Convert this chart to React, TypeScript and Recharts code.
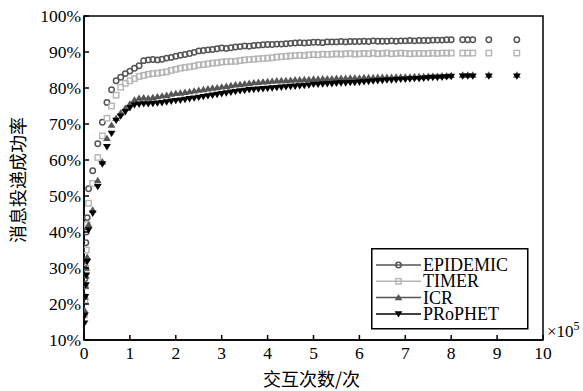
import React from "react";
import { ReferenceArea, Scatter, ScatterChart, XAxis, YAxis } from "recharts";

// interaction counts (x10^5)
const interactions = [
  0.01, 0.02, 0.03, 0.04, 0.05, 0.07, 0.1, 0.19, 0.3, 0.4, 0.5, 0.6, 0.7, 0.8, 0.9, 1.0, 1.1, 1.2,
  1.3, 1.4, 1.5, 1.6, 1.7, 1.8, 1.9,
  2.0, 2.1, 2.2, 2.3, 2.4, 2.5, 2.6, 2.7, 2.8, 2.9,
  3.0, 3.1, 3.2, 3.3, 3.4, 3.5, 3.6, 3.7, 3.8, 3.9,
  4.0, 4.1, 4.2, 4.3, 4.4, 4.5, 4.6, 4.7, 4.8, 4.9,
  5.0, 5.1, 5.2, 5.3, 5.4, 5.5, 5.6, 5.7, 5.8, 5.9,
  6.0, 6.1, 6.2, 6.3, 6.4, 6.5, 6.6, 6.7, 6.8, 6.9,
  7.0, 7.1, 7.2, 7.3, 7.4, 7.5, 7.6, 7.7, 7.8, 7.9,
  8.0, 8.25, 8.36, 8.47, 8.82, 9.43,
];

// delivery ratio (%)
const epidemic = [
  22, 27, 32, 37, 40, 44, 52, 57, 64.5, 70.5, 76, 79.5, 82, 83, 84, 84.7, 85.5, 86.2,
  87.6, 87.8, 87.9, 87.8, 88.0, 88.3, 88.5,
  88.8, 89.1, 89.3, 89.6, 89.9, 90.3, 90.4, 90.6, 90.7, 90.9,
  91.1, 91.0, 91.2, 91.4, 91.5, 91.7, 91.6, 91.8, 91.9, 92.0,
  92.1, 92.1, 92.2, 92.2, 92.3, 92.4, 92.5, 92.6, 92.5, 92.6,
  92.7, 92.7, 92.6, 92.8, 92.8, 92.8, 92.9, 92.8, 92.9, 92.9,
  92.9, 93.0, 92.9, 93.1, 93.0, 93.0, 93.0, 93.1, 93.0, 93.1,
  93.1, 93.2, 93.1, 93.2, 93.2, 93.2, 93.3, 93.3, 93.3, 93.4,
  93.4, 93.4, 93.4, 93.4, 93.4, 93.4,
];

const timer = [
  17, 21, 25, 30, 35, 42, 48, 53.5, 60.7, 66.7, 71.6, 75, 78, 80.2, 81.3, 82, 82.6, 83.2,
  83.5, 83.8, 84.0, 84.1, 84.3, 84.5, 84.9,
  85.2, 85.5, 85.7, 85.9, 86.1, 86.4, 86.5, 86.7, 86.9, 87.0,
  87.2, 87.3, 87.4, 87.4, 87.6, 87.8, 87.9, 88.0, 88.1, 88.2,
  88.3, 88.4, 88.6, 88.7, 88.8, 88.9, 89.0, 89.1, 89.0, 89.2,
  89.3, 89.2, 89.4, 89.3, 89.4, 89.5, 89.4, 89.5, 89.6, 89.4,
  89.5, 89.6, 89.5, 89.7, 89.5, 89.6, 89.7, 89.5, 89.6, 89.7,
  89.6, 89.5, 89.6, 89.6, 89.6, 89.6, 89.7, 89.6, 89.7, 89.7,
  89.7, 89.7, 89.7, 89.7, 89.7, 89.7,
];

const icr = [
  18.3, 22, 25, 27.8, 30, 33, 42, 46.1, 54.3, 59.5, 66, 69.7, 71.6, 73.1, 74.4, 75.6, 76.7, 77.2,
  77.3, 77.2, 77.4, 77.6, 77.8, 78.0, 78.3,
  78.5, 78.6, 78.8, 79.0, 79.2, 79.4, 79.6, 79.8, 80.0, 80.1,
  80.3, 80.5, 80.7, 80.9, 81.0, 81.2, 81.3, 81.5, 81.6, 81.7,
  81.8, 81.9, 82.0, 82.1, 82.1, 82.2, 82.3, 82.3, 82.4, 82.4,
  82.5, 82.5, 82.6, 82.6, 82.6, 82.7, 82.7, 82.7, 82.8, 82.8,
  82.8, 82.9, 82.9, 82.9, 83.0, 83.0, 83.0, 83.0, 83.1, 83.1,
  83.1, 83.1, 83.2, 83.2, 83.2, 83.3, 83.3, 83.3, 83.4, 83.4,
  83.5, 83.6, 83.6, 83.6, 83.6, 83.6,
];

const prophet = [
  14.7, 16.9, 22, 25.3, 28, 31.8, 40.6, 45.2, 52.6, 58.9, 63.7, 67.4, 71, 72.2, 73.4, 74.5, 75.3, 75.5,
  75.6, 75.6, 75.7, 75.8, 75.9, 76.1, 76.3,
  76.5, 76.6, 76.8, 77.0, 77.2, 77.4, 77.6, 77.8, 78.0, 78.2,
  78.4, 78.6, 78.8, 79.0, 79.2, 79.3, 79.5, 79.6, 79.7, 79.8,
  79.9, 80.0, 80.1, 80.2, 80.3, 80.4, 80.5, 80.6, 80.7, 80.8,
  81.0, 81.0, 81.1, 81.2, 81.2, 81.3, 81.4, 81.4, 81.5, 81.5,
  81.6, 81.7, 81.8, 81.9, 82.0, 82.1, 82.2, 82.2, 82.3, 82.4,
  82.4, 82.5, 82.6, 82.6, 82.7, 82.8, 82.9, 82.9, 83.0, 83.1,
  83.2, 83.3, 83.3, 83.3, 83.3, 83.3,
];

const xTicks = [0, 1, 2, 3, 4, 5, 6, 7, 8, 9, 10];
const yTicks = [10, 20, 30, 40, 50, 60, 70, 80, 90, 100];

const SERIF = '"Liberation Serif", "Times New Roman", serif';
const CJK = '"Noto Sans CJK SC", sans-serif';

const toPoints = (ys: number[]) => interactions.map((x, i) => ({ x, y: ys[i] }));

type Marker = "circle" | "square" | "up" | "down";

function drawMarker(kind: Marker, cx: number, cy: number, color: string) {
  if (kind === "circle") return <circle cx={cx} cy={cy} r={2.7} fill="none" stroke={color} strokeWidth={1.5} />;
  if (kind === "square") return <rect x={cx - 2.7} y={cy - 2.7} width={5.4} height={5.4} fill="none" stroke={color} strokeWidth={1.4} />;
  if (kind === "up") return <polygon points={`${cx},${cy - 3.7} ${cx - 3.9},${cy + 2.7} ${cx + 3.9},${cy + 2.7}`} fill={color} />;
  return <polygon points={`${cx},${cy + 3.7} ${cx - 3.9},${cy - 2.7} ${cx + 3.9},${cy - 2.7}`} fill={color} />;
}

const seriesList: { name: string; values: number[]; marker: Marker; color: string }[] = [
  { name: "EPIDEMIC", values: epidemic, marker: "circle", color: "#555" },
  { name: "TIMER", values: timer, marker: "square", color: "#b5b5b5" },
  { name: "ICR", values: icr, marker: "up", color: "#555" },
  { name: "PRoPHET", values: prophet, marker: "down", color: "#000" },
];

const XTick = (props: any) => {
  const { x, y, payload } = props;
  return (
    <g>
      <line x1={x} y1={y} x2={x} y2={y - 5} stroke="#000" strokeWidth={1.5} />
      <text x={x} y={y + 19} textAnchor="middle" fontFamily={SERIF} fontSize={17.5} fill="#000">
        {payload.value}
      </text>
    </g>
  );
};

const YTick = (props: any) => {
  const { x, y, payload } = props;
  return (
    <g>
      <line x1={x} y1={y} x2={x + 5} y2={y} stroke="#000" strokeWidth={1.5} />
      <text x={x - 3} y={y + 6} textAnchor="end" fontFamily={SERIF} fontSize={17.5} fill="#000">
        {`${payload.value}%`}
      </text>
    </g>
  );
};

const LegendBox = () => (
  <svg width={158} height={82} style={{ display: "block" }}>
    <rect x={0.75} y={0.75} width={156} height={80} fill="#fff" stroke="#000" strokeWidth={1.5} />
    {seriesList.map((s, i) => {
      const cy = 17 + i * 16.3;
      return (
        <g key={s.name}>
          <line x1={5} y1={cy} x2={50} y2={cy} stroke={s.color} strokeWidth={1.5} />
          {drawMarker(s.marker, 27.5, cy, s.color)}
          <text x={52} y={cy + 6} fontFamily={SERIF} fontSize={18} fill="#000">
            {s.name}
          </text>
        </g>
      );
    })}
  </svg>
);

export default function App() {
  return (
    <div style={{ position: "absolute", left: 0, top: 0, width: 583, height: 391, background: "#fff" }}>
      <ScatterChart width={583} height={391} margin={{ top: 16, right: 40, bottom: 21, left: 34 }}>
        <XAxis
          type="number"
          dataKey="x"
          domain={[0, 10]}
          ticks={xTicks}
          interval={0}
          height={30}
          tickSize={0}
          tickMargin={0}
          tick={<XTick />}
          tickLine={false}
          axisLine={{ stroke: "#000", strokeWidth: 1.5 }}
          allowDataOverflow
        />
        <YAxis
          type="number"
          dataKey="y"
          domain={[10, 100]}
          ticks={yTicks}
          interval={0}
          width={50}
          tickSize={0}
          tickMargin={0}
          tick={<YTick />}
          tickLine={false}
          axisLine={{ stroke: "#000", strokeWidth: 1.5 }}
          allowDataOverflow
        />
        <ReferenceArea x1={0} x2={10} y1={10} y2={100} fill="none" stroke="#000" strokeWidth={1.5} />
        {seriesList.map((s) => (
          <Scatter
            key={s.name}
            name={s.name}
            data={toPoints(s.values)}
            isAnimationActive={false}
            shape={(p: any) => drawMarker(s.marker, p.cx, p.cy, s.color)}
          />
        ))}
      </ScatterChart>
      <div style={{ position: "absolute", left: 371, top: 248 }}>
        <LegendBox />
      </div>
      <div style={{ position: "absolute", left: 547, top: 320, lineHeight: 1, fontFamily: SERIF, fontSize: 17, whiteSpace: "nowrap" }}>
        ×10<sup style={{ fontSize: 12 }}>5</sup>
      </div>
      <div style={{ position: "absolute", left: 263, top: 369, lineHeight: 1, fontFamily: CJK, fontSize: 18, whiteSpace: "nowrap" }}>
        交互次数/次
      </div>
      <div
        style={{
          position: "absolute",
          left: 17,
          top: 180,
          lineHeight: 1,
          transform: "translate(-50%, -50%) rotate(-90deg)",
          fontFamily: CJK,
          fontSize: 18,
          whiteSpace: "nowrap",
        }}
      >
        消息投递成功率
      </div>
    </div>
  );
}
